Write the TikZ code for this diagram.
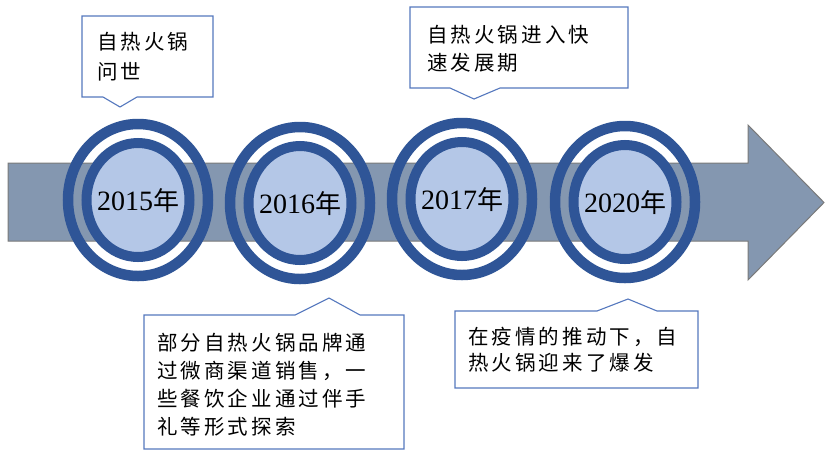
\documentclass[tikz,border=0pt]{standalone}
\usepackage{fontspec}
\setmainfont{Liberation Serif}
\newfontfamily\cjk{Noto Sans CJK SC}[LetterSpace=15]
\newfontfamily\cjkyear{Noto Sans CJK SC}
\definecolor{arrowfill}{HTML}{8497B0}
\definecolor{arrowline}{HTML}{7A7A7A}
\definecolor{ringblue}{HTML}{2F5597}
\definecolor{diskfill}{HTML}{B4C7E7}
\definecolor{callline}{HTML}{5578BE}
\tikzset{
  outerring/.style={draw=ringblue, line width=10.5pt},
  innerring/.style={draw=ringblue, line width=10pt, fill=diskfill},
  yeartext/.style={inner sep=0pt, font=\fontsize{28}{32}\selectfont},
  callout/.style={draw=callline, line width=1.1pt, fill=white, line join=miter},
  calltext/.style={inner sep=0pt, anchor=north west, align=left, font=\cjk\fontsize{20.5}{28}\selectfont},
}
\newcommand{\yearmark}[3]{%
  \draw[outerring] (#1,#2) ellipse [x radius=70, y radius=76];
  \draw[innerring] (#1,#2) ellipse [x radius=51.5, y radius=57];
  \node[yeartext] (y#3) at (#1,#2+1) {#3{\cjkyear\fontsize{26}{30}\selectfont 年}};
}
\begin{document}
\begin{tikzpicture}[x=1pt,y=-1pt]
\useasboundingbox (0,0) rectangle (832,459);
\fill[white] (0,0) rectangle (832,459);
% timeline arrow
\draw[fill=arrowfill, draw=arrowline, line width=1pt, line join=miter]
  (8,163) -- (748,163) -- (748,125) -- (824,202.5) -- (748,280) -- (748,241) -- (8,241) -- cycle;
% year markers
\yearmark{138}{200}{2015}
\yearmark{300}{203}{2016}
\yearmark{462}{199}{2017}
\yearmark{625}{202}{2020}
% callout 1
\draw[callout] (82,16) -- (213,16) -- (213,97) -- (137,97) -- (120,107) -- (103,97) -- (82,97) -- cycle;
\node[calltext, font=\cjk\fontsize{20.5}{30}\selectfont] (c1) at (97,32) {自热火锅\\问世};
% callout 2
\draw[callout] (410,7) -- (628,7) -- (628,88) -- (500,88) -- (474,99) -- (450,88) -- (410,88) -- cycle;
\node[calltext] (c2) at (427,25) {自热火锅进入快\\速发展期};
% callout 3
\draw[callout] (144,315) -- (295,315) -- (329,298) -- (360,315) -- (404,315) -- (404,449) -- (144,449) -- cycle;
\node[calltext] (c3) at (157,333) {部分自热火锅品牌通\\过微商渠道销售，一\\些餐饮企业通过伴手\\礼等形式探索};
% callout 4
\draw[callout] (455,311) -- (597,311) -- (628,299) -- (657,311) -- (698,311) -- (698,388) -- (455,388) -- cycle;
\node[calltext, font=\cjk\fontsize{20.5}{26}\selectfont] (c4) at (468,327) {在疫情的推动下，自\\热火锅迎来了爆发};
\end{tikzpicture}
\end{document}
